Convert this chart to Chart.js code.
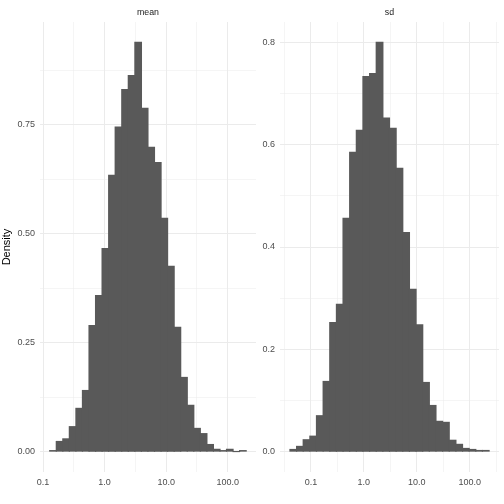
<!DOCTYPE html>
<html><head><meta charset="utf-8">
<script src="https://cdn.jsdelivr.net/npm/chart.js@4"></script>
<style>body{margin:0;background:#fff;width:504px;height:504px;overflow:hidden;position:relative}
#a{position:absolute;left:0;top:0}#b{position:absolute;left:258px;top:0}</style></head>
<body><canvas id="a" width="258" height="504"></canvas><canvas id="b" width="246" height="504"></canvas>
<script>
const panels = ["mean", "sd"];
const meanBinsLog10 = [-0.839,-0.732,-0.626,-0.520,-0.413,-0.307,-0.200,-0.094,0.012,0.119,0.225,0.332,0.438,0.545,0.651,0.757,0.864,0.970,1.077,1.183,1.290,1.396,1.502,1.609,1.715,1.822,1.928,2.034,2.141,2.247];
const meanDensity = [0.002,0.023,0.029,0.057,0.099,0.140,0.289,0.358,0.466,0.634,0.745,0.831,0.863,0.939,0.788,0.698,0.663,0.535,0.425,0.285,0.170,0.106,0.053,0.041,0.016,0.005,0.002,0.005,0,0.002];
const sdBinsLog10 = [-1.333,-1.208,-1.083,-0.957,-0.832,-0.706,-0.581,-0.455,-0.330,-0.205,-0.079,0.046,0.172,0.297,0.422,0.548,0.673,0.799,0.924,1.050,1.175,1.300,1.426,1.551,1.677,1.802,1.928,2.053,2.178,2.304];
const sdDensity = [0.004,0.010,0.023,0.030,0.070,0.137,0.252,0.288,0.456,0.585,0.628,0.733,0.739,0.800,0.652,0.632,0.554,0.428,0.317,0.248,0.135,0.090,0.059,0.057,0.022,0.014,0.006,0.004,0.002,0.002];
const xTickValues = [-1,0,1,2];
const xTickLabels = ["0.1","1.0","10.0","100.0"];
const meanYTicks = [0,0.25,0.5,0.75];
const meanYLabels = ["0.00","0.25","0.50","0.75"];
const sdYTicks = [0,0.2,0.4,0.6,0.8];
const sdYLabels = ["0.0","0.2","0.4","0.6","0.8"];

function make(id, title, xs, ys, xmin, xmax, ymin, ymax, yTicks, yLabels, yStep, yw, showTitle, padR){
  const strip = {id:'strip', afterDraw(c){const ctx=c.ctx,a=c.chartArea;ctx.save();ctx.fillStyle='#1a1a1a';ctx.font='8.8px "Liberation Sans",Arial';ctx.textAlign='center';ctx.textBaseline='middle';ctx.fillText(title,(a.left+a.right)/2,13);ctx.restore();}};
  const isMajY = v => yTicks.some(t=>Math.abs(t-v)<1e-6);
  new Chart(document.getElementById(id), {
    type:'bar',
    data:{datasets:[{data:xs.map((x,i)=>({x:x,y:ys[i]})),backgroundColor:'#595959',barPercentage:1,categoryPercentage:1,borderWidth:0,inflateAmount:0.6}]},
    options:{responsive:false,animation:false,devicePixelRatio:1,
      layout:{padding:{top:22,right:padR,left:0,bottom:0}},
      plugins:{legend:{display:false},tooltip:{enabled:false}},
      scales:{
        x:{type:'linear',offset:false,min:xmin,max:xmax,border:{display:false},
          afterBuildTicks(s){const t=[];for(let v=Math.ceil(xmin*2)/2;v<=xmax;v+=0.5)t.push({value:v});s.ticks=t;},
          afterFit(s){s.height=32;},
          grid:{offset:false,color:'#ebebeb',lineWidth:c=>(c.tick&&Number.isInteger(c.tick.value))?1:0.5,drawTicks:false},
          ticks:{padding:5,color:'#4d4d4d',font:{size:9,family:'"Liberation Sans",Arial'},autoSkip:false,maxRotation:0,
            callback:v=>{const i=xTickValues.indexOf(v);return i>=0?xTickLabels[i]:'';}}},
        y:{type:'linear',min:ymin,max:ymax,border:{display:false},
          afterBuildTicks(s){const t=[];for(let v=0;v<=ymax+1e-9;v+=yStep)t.push({value:Math.round(v*1000)/1000});s.ticks=t;},
          afterFit(s){s.width=yw;},
          title:{display:showTitle,text:'Density',color:'#000',font:{size:11,family:'"Liberation Sans",Arial'},padding:{top:0,bottom:2}},
          grid:{color:'#ebebeb',lineWidth:c=>(c.tick&&isMajY(c.tick.value))?1:0.5,drawTicks:false},
          ticks:{padding:5,color:'#4d4d4d',font:{size:9,family:'"Liberation Sans",Arial'},autoSkip:false,
            callback:v=>{const i=yTicks.findIndex(t=>Math.abs(t-v)<1e-6);return i>=0?yLabels[i]:'';}}}
      }},
    plugins:[strip]
  });
}
make('a', panels[0], meanBinsLog10, meanDensity, -1.05, 2.46, -0.047, 0.986, meanYTicks, meanYLabels, 0.125, 40, true, 2);
make('b', panels[1], sdBinsLog10, sdDensity, -1.584, 2.554, -0.04, 0.84, sdYTicks, sdYLabels, 0.1, 22, false, 5);
</script></body></html>
